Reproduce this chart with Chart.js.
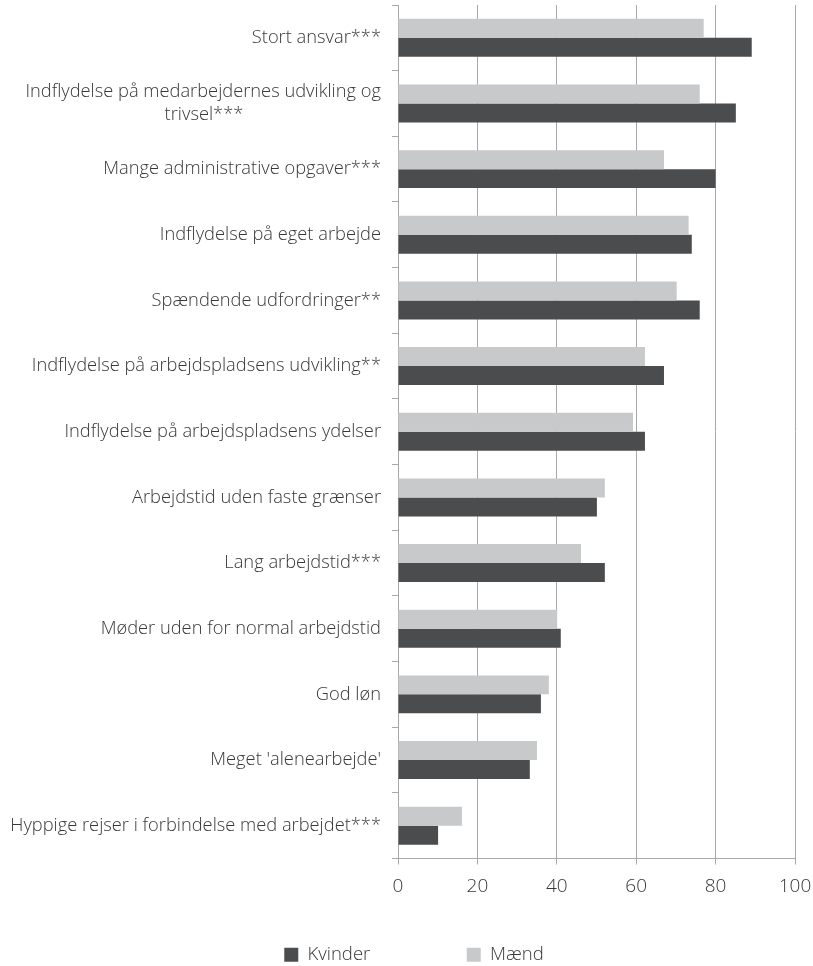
<!DOCTYPE html>
<html><head><meta charset="utf-8">
<script src="https://cdn.jsdelivr.net/npm/chart.js@4.4.1/dist/chart.umd.min.js"></script>
<style>html,body{margin:0;padding:0;background:#fff}</style>
</head><body>
<canvas id="c" width="813" height="966"></canvas>
<script>
// ---- data ----
const categories = [
  'Stort ansvar***',
  'Indflydelse på medarbejdernes udvikling og|trivsel***',
  'Mange administrative opgaver***',
  'Indflydelse på eget arbejde',
  'Spændende udfordringer**',
  'Indflydelse på arbejdspladsens udvikling**',
  'Indflydelse på arbejdspladsens ydelser',
  'Arbejdstid uden faste grænser',
  'Lang arbejdstid***',
  'Møder uden for normal arbejdstid',
  'God løn',
  "Meget 'alenearbejde'",
  'Hyppige rejser i forbindelse med arbejdet***'
];
const seriesNames = ['Kvinder', 'Mænd'];
const kvinder = [89.1, 85.1, 80, 74, 76, 67, 62.2, 50.1, 52.1, 41, 36, 33.2, 10.1];
const maend   = [77, 76, 67, 73.2, 70.2, 62.2, 59.2, 52.1, 46.1, 40.1, 38, 35, 16.1];
const xTickStep = 20;
const xMin = 0, xMax = 100;

// ---- style ----
const FAM = 'Open Sans';
const TXT = '#383838';
const GRID = '#a8a8a8';
const labelFont = {family: FAM, size: 18.3, weight: '300', lineHeight: 1.25};
const mctx = document.createElement('canvas').getContext('2d');
function textW(s, f) { mctx.font = `${f.weight} ${f.size}px "${f.family}"`; return mctx.measureText(s).width; }

// multi-line labels: second line centred under the first
const yLabels = categories.map(c => {
  const parts = c.split('|');
  if (parts.length === 1) return c;
  const w0 = textW(parts[0], labelFont);
  const sp = textW(' ', labelFont);
  return parts.map((p, i) => {
    if (i === 0) return p;
    const n = Math.max(0, Math.round((w0 - textW(p, labelFont)) / 2 / sp));
    return p + ' '.repeat(n);
  });
});

const legendFont = {family: FAM, size: 18.5, weight: '300'};

new Chart(document.getElementById('c'), {
  type: 'bar',
  data: {
    labels: yLabels,
    datasets: [
      {label: seriesNames[1], data: maend, backgroundColor: '#c8c9cb', borderWidth: 0, categoryPercentage: 0.578, barPercentage: 1},
      {label: seriesNames[0], data: kvinder, backgroundColor: '#4b4c4e', borderWidth: 0, categoryPercentage: 0.578, barPercentage: 1}
    ]
  },
  options: {
    indexAxis: 'y',
    responsive: false,
    devicePixelRatio: 1,
    animation: false,
    layout: {padding: {top: 5, right: -15, bottom: -8, left: 0}},
    scales: {
      x: {
        min: xMin, max: xMax,
        ticks: {stepSize: xTickStep, padding: 11, color: TXT, font: {family: FAM, size: 19, weight: '300'}},
        grid: {color: GRID, lineWidth: 1, tickLength: 6, drawTicks: true},
        border: {color: GRID},
        afterFit: s => { s.height = 77; s.paddingLeft = 0; s.paddingRight = 18; }
      },
      y: {
        ticks: {padding: 11, color: TXT, font: labelFont, autoSkip: false},
        grid: {drawOnChartArea: false, offset: true, tickLength: 6, color: GRID},
        border: {color: GRID},
        afterFit: s => { s.width = 398; s.paddingTop = 0; s.paddingBottom = 0; }
      }
    },
    plugins: {
      tooltip: {enabled: false},
      legend: {
        position: 'bottom',
        reverse: true,
        labels: {
          boxWidth: 14, boxHeight: 14, padding: 10, color: TXT, font: legendFont,
          generateLabels: chart => {
            const items = Chart.defaults.plugins.legend.labels.generateLabels(chart);
            const sp = textW(' ', legendFont);
            items.forEach(it => {
              it.lineWidth = 0;
              if (it.text === seriesNames[0]) {
                const gap = 94.5 - (textW(it.text, legendFont) - 63) - 10;
                it.text = it.text + ' '.repeat(Math.max(0, Math.round(gap / sp)));
              }
            });
            return items;
          }
        }
      }
    }
  }
});
</script>
</body></html>
